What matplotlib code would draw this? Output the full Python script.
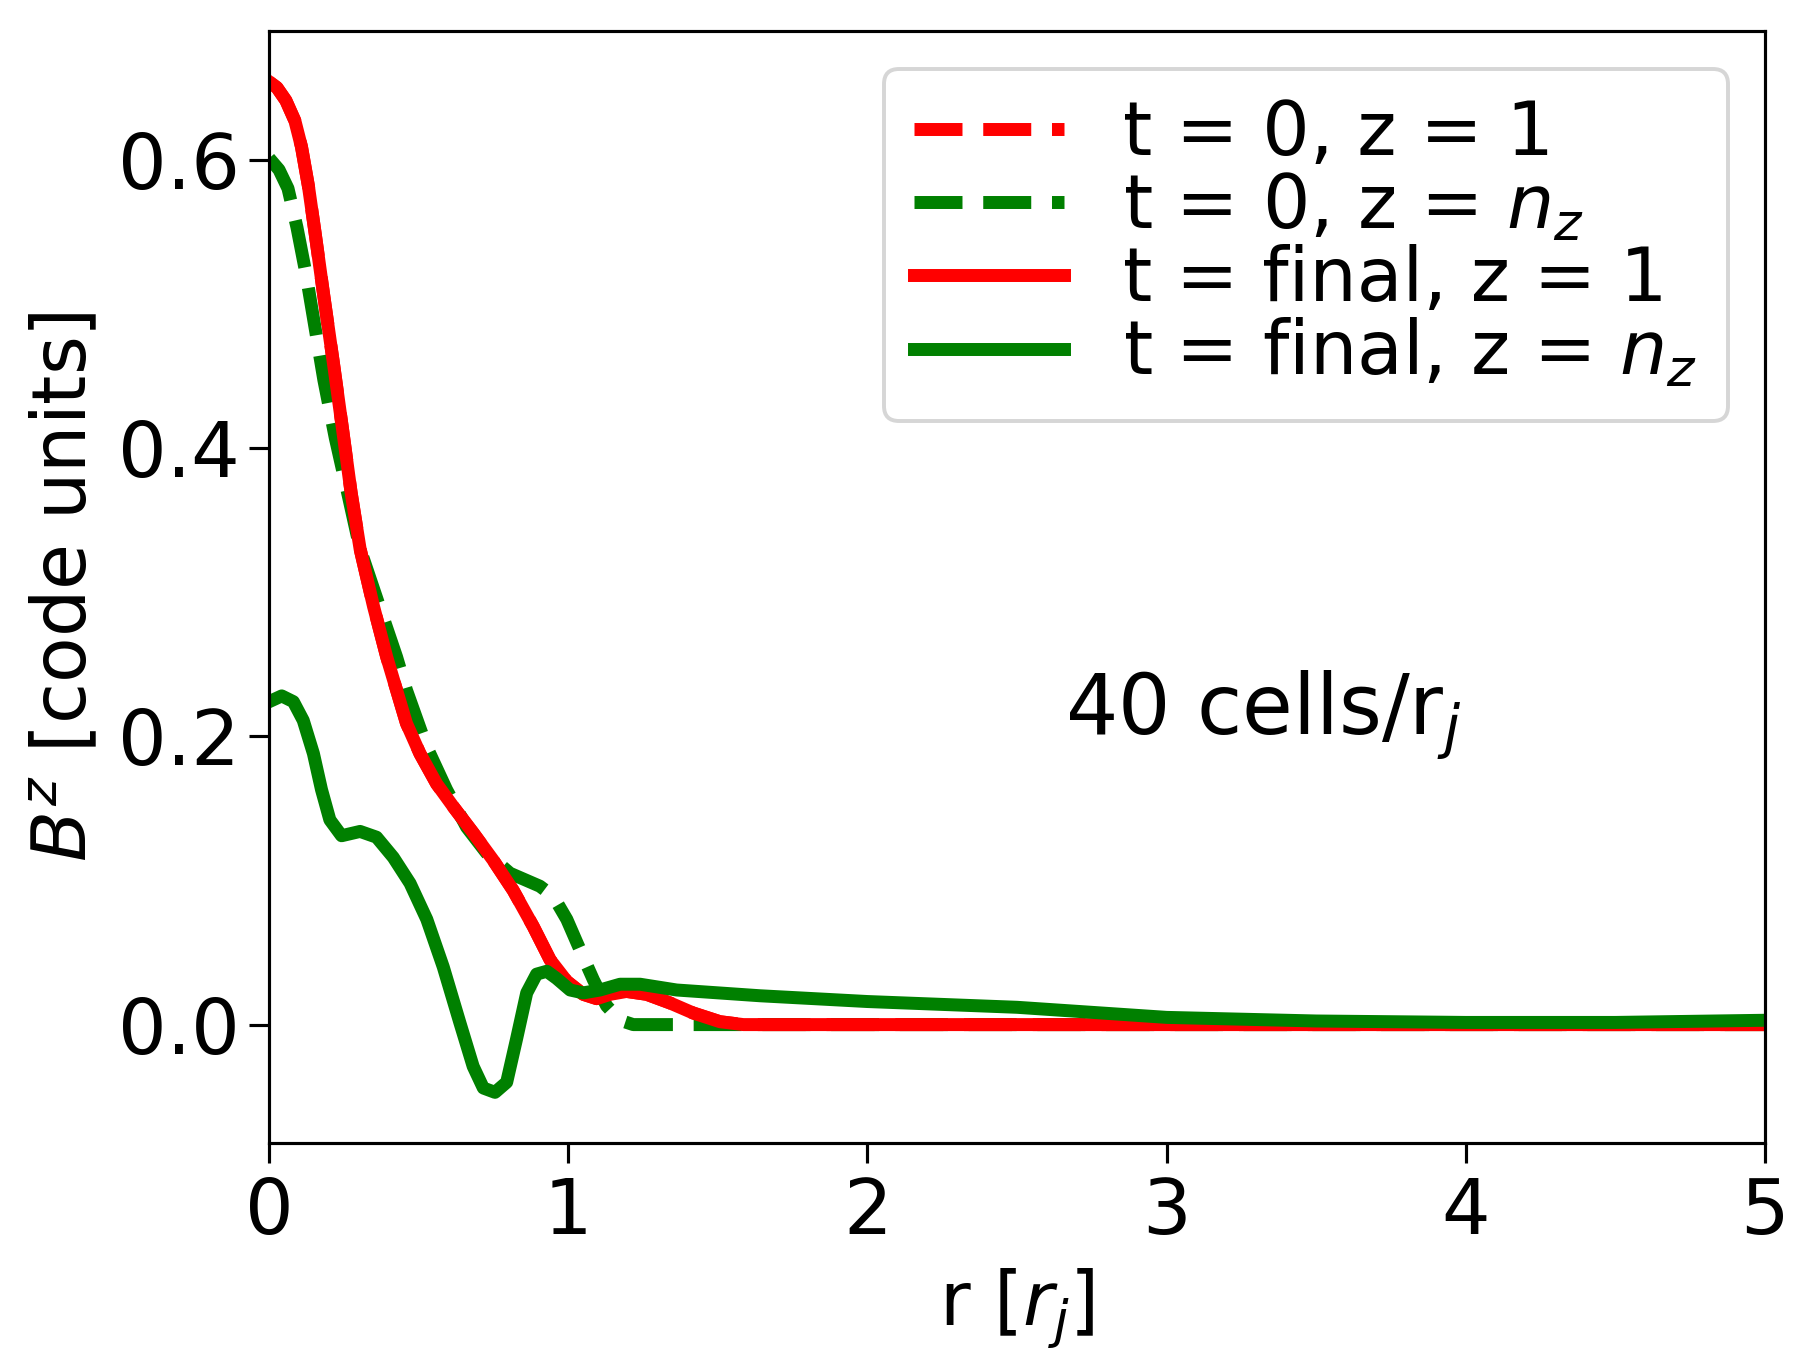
import numpy as np
import matplotlib
matplotlib.use("Agg")
import matplotlib.pyplot as plt

# radius [r_j] and B^z [code units]
# z = 1 is the injection boundary: t = 0 and t = final profiles coincide there
r_red = [0, 0.026, 0.056, 0.086, 0.108, 0.131, 0.153, 0.183, 0.214, 0.244,
         0.274, 0.304, 0.349, 0.393, 0.426, 0.459, 0.504, 0.560, 0.616, 0.682,
         0.749, 0.816, 0.883, 0.939, 0.995, 1.050, 1.095, 1.140, 1.195, 1.262,
         1.340, 1.418, 1.507, 1.585, 2.0, 3.0, 4.0, 5.0]
bz_red = [0.654, 0.650, 0.641, 0.627, 0.609, 0.582, 0.550, 0.505, 0.460, 0.415,
          0.369, 0.330, 0.290, 0.255, 0.232, 0.209, 0.188, 0.167, 0.151, 0.133,
          0.114, 0.093, 0.068, 0.045, 0.030, 0.021, 0.018, 0.021, 0.023, 0.021,
          0.015, 0.008, 0.002, 0.0, 0.0, 0.0, 0.0, 0.0]

r_green0 = [0, 0.033, 0.063, 0.093, 0.123, 0.153, 0.183, 0.221, 0.259, 0.304,
            0.364, 0.426, 0.459, 0.526, 0.593, 0.660, 0.727, 0.805, 0.905, 0.950,
            0.995, 1.039, 1.084, 1.128, 1.173, 1.217, 1.4, 5.0]
bz_green0 = [0.601, 0.593, 0.580, 0.553, 0.521, 0.484, 0.447, 0.407, 0.372, 0.330,
             0.293, 0.255, 0.232, 0.193, 0.163, 0.137, 0.119, 0.105, 0.096, 0.089,
             0.073, 0.052, 0.031, 0.013, 0.003, 0.0, 0.0, 0.0]

r_green = [0, 0.042, 0.081, 0.114, 0.148, 0.175, 0.203, 0.242, 0.304, 0.359,
           0.415, 0.471, 0.527, 0.582, 0.638, 0.682, 0.716, 0.755, 0.794, 0.827,
           0.861, 0.894, 0.928, 0.961, 1.006, 1.050, 1.106, 1.173, 1.240, 1.362,
           1.641, 2.0, 2.5, 3.0, 3.5, 4.0, 4.5, 5.0]
bz_green = [0.224, 0.228, 0.224, 0.211, 0.188, 0.163, 0.142, 0.131, 0.134, 0.130,
            0.116, 0.098, 0.073, 0.040, 0.001, -0.029, -0.044, -0.047, -0.040, -0.010,
            0.022, 0.035, 0.037, 0.032, 0.024, 0.022, 0.024, 0.028, 0.028, 0.024,
            0.020, 0.016, 0.012, 0.005, 0.0025, 0.0015, 0.0015, 0.003]

plt.rcParams["font.size"] = 19

fig = plt.figure(figsize=(1810 / 283, 1372 / 283), dpi=283)
ax = fig.add_axes([0.1487, 0.167, 0.8264, 0.8102])

lw = 3.3
ax.plot(r_red, bz_red, "--", color="red", lw=lw, label="t = 0, z = 1")
ax.plot(r_green0, bz_green0, "--", color="green", lw=lw, label="t = 0, z = $n_z$")
ax.plot(r_red, bz_red, "-", color="red", lw=lw, label="t = final, z = 1")
ax.plot(r_green, bz_green, "-", color="green", lw=lw, label="t = final, z = $n_z$")

ax.set_xlim(0, 5)
ax.set_yticks([0.0, 0.2, 0.4, 0.6])
ax.set_xlabel("r [$r_j$]")
ax.set_ylabel("$B^z$ [code units]")
ax.tick_params(length=5, labelsize=19.5)
ax.tick_params(axis="y", pad=2.5)

ax.text(2.66, 0.215, "40 cells/r$_j$", va="center", ha="left", fontsize=21)
ax.legend(loc="upper right", labelspacing=0.0)

fig.savefig("out.png", dpi=283)
